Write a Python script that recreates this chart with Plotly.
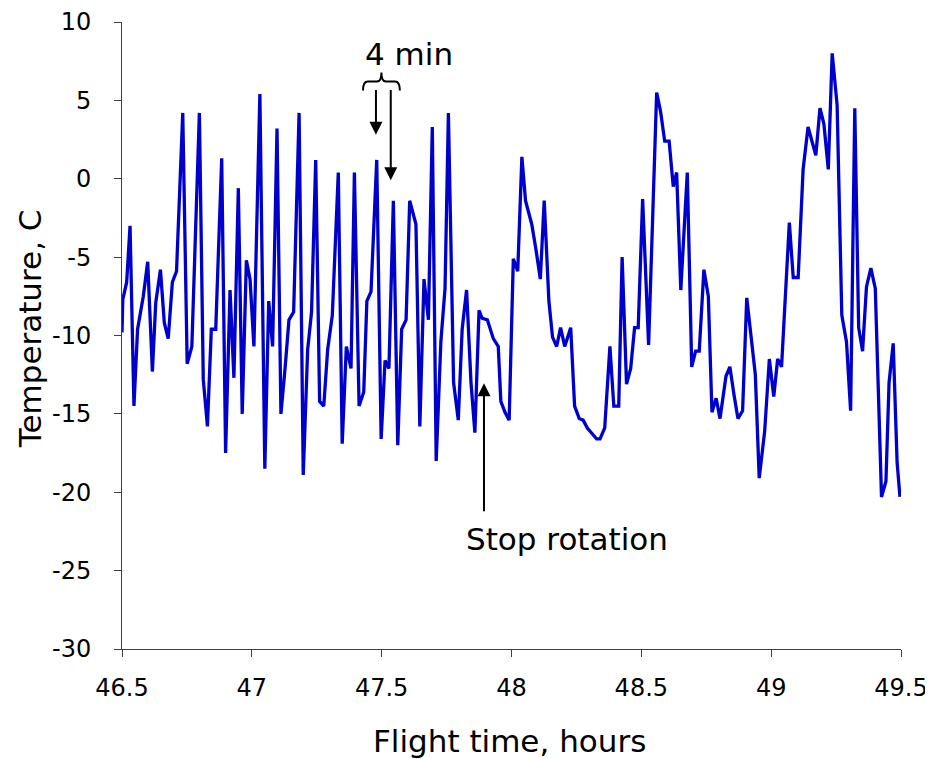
import plotly.graph_objects as go

time_h = [46.500, 46.503, 46.518, 46.531, 46.546, 46.560, 46.582, 46.599, 46.617, 46.630,
          46.648, 46.663, 46.678, 46.694, 46.710, 46.734, 46.751, 46.769, 46.798, 46.813,
          46.829, 46.844, 46.861, 46.884, 46.899, 46.916, 46.931, 46.948, 46.963, 46.979,
          46.993, 47.008, 47.031, 47.050, 47.065, 47.080, 47.097, 47.112, 47.128, 47.143,
          47.161, 47.182, 47.198, 47.215, 47.230, 47.246, 47.261, 47.277, 47.292, 47.310,
          47.333, 47.348, 47.364, 47.382, 47.395, 47.413, 47.431, 47.443, 47.459, 47.481,
          47.498, 47.513, 47.528, 47.545, 47.562, 47.577, 47.594, 47.608, 47.632, 47.647,
          47.663, 47.680, 47.695, 47.710, 47.728, 47.744, 47.757, 47.777, 47.795, 47.810,
          47.827, 47.844, 47.859, 47.875, 47.887, 47.907, 47.930, 47.949, 47.959, 47.975,
          47.991, 48.007, 48.024, 48.040, 48.054, 48.078, 48.094, 48.111, 48.126, 48.144,
          48.158, 48.174, 48.189, 48.205, 48.228, 48.243, 48.261, 48.276, 48.292, 48.313,
          48.328, 48.341, 48.359, 48.379, 48.394, 48.413, 48.426, 48.443, 48.459, 48.474,
          48.488, 48.505, 48.528, 48.559, 48.574, 48.590, 48.607, 48.623, 48.636, 48.652,
          48.677, 48.694, 48.709, 48.723, 48.741, 48.758, 48.772, 48.788, 48.803, 48.826,
          48.841, 48.857, 48.872, 48.890, 48.906, 48.939, 48.954, 48.975, 48.993, 49.010,
          49.025, 49.040, 49.070, 49.085, 49.104, 49.123, 49.142, 49.172, 49.188, 49.203,
          49.220, 49.235, 49.254, 49.272, 49.290, 49.306, 49.322, 49.337, 49.352, 49.367,
          49.384, 49.401, 49.425, 49.442, 49.454, 49.470, 49.485, 49.496]

temp_c = [-9.8, -7.7, -6.6, -3.0, -14.5, -9.6, -7.5, -5.3, -12.3, -7.9,
          -5.8, -9.2, -10.2, -6.6, -5.9, 4.2, -11.8, -10.7, 4.2, -12.8,
          -15.8, -9.6, -9.6, 1.3, -17.5, -7.1, -12.7, -0.6, -15.0, -5.2,
          -6.4, -10.7, 5.4, -18.5, -7.8, -10.7, 3.2, -15.0, -12.1, -9.0,
          -8.5, 4.2, -18.9, -10.9, -8.5, 1.2, -14.2, -14.5, -10.9, -8.7,
          0.4, -16.9, -10.7, -12.1, 0.4, -14.5, -13.6, -7.8, -7.2, 1.2,
          -16.6, -11.6, -12.1, -1.4, -17.0, -9.6, -9.0, -1.4, -2.9, -15.8,
          -6.4, -9.0, 3.3, -18.0, -10.4, -7.0, 4.2, -13.0, -15.4, -9.6,
          -7.1, -13.0, -16.2, -8.4, -8.9, -9.0, -10.2, -10.7, -14.2, -14.9,
          -15.4, -5.1, -5.9, 1.4, -1.4, -2.9, -4.5, -6.4, -1.4, -7.8,
          -10.1, -10.7, -9.5, -10.7, -9.5, -14.5, -15.3, -15.4, -15.9, -16.3,
          -16.6, -16.6, -15.9, -10.7, -14.5, -14.5, -5.0, -13.1, -12.1, -9.5,
          -9.5, -1.3, -10.6, 5.5, 4.3, 2.4, 2.4, -0.5, 0.4, -7.1,
          0.4, -12.0, -11.0, -11.0, -5.8, -7.5, -14.9, -14.0, -15.3, -12.6,
          -12.0, -13.8, -15.3, -14.8, -7.6, -12.5, -19.1, -16.1, -11.5, -13.9,
          -11.5, -12.0, -2.8, -6.3, -6.3, 0.6, 3.3, 1.5, 4.5, 3.5,
          0.6, 8.0, 4.7, -8.7, -10.4, -14.8, 4.5, -9.5, -11.0, -6.9,
          -5.7, -7.0, -20.3, -19.3, -13.0, -10.5, -18.1, -20.3]

x_ticks = [46.5, 47, 47.5, 48, 48.5, 49, 49.5]
x_tick_labels = ["46.5", "47", "47.5", "48", "48.5", "49", "49.5"]
y_ticks = [-30, -25, -20, -15, -10, -5, 0, 5, 10]
y_tick_labels = ["-30", "-25", "-20", "-15", "-10", "-5", "0", "5", "10"]

FONT = "DejaVu Sans"
AXIS_COLOR = "#404040"
TEXT_SIZE = 31

fig = go.Figure()
fig.add_trace(go.Scatter(
    x=time_h, y=temp_c, mode="lines",
    line=dict(color="#0000CC", width=3.3),
    showlegend=False, hoverinfo="skip",
))

# 4 min annotations: arrows
for x_tip, y_tip in [(47.478, 2.8), (47.535, -0.1)]:
    fig.add_annotation(
        x=x_tip, y=y_tip, ax=x_tip, ay=5.75, xref="x", yref="y", axref="x", ayref="y",
        text="", showarrow=True, arrowhead=2, arrowsize=1.3, arrowwidth=2,
        arrowcolor="black", standoff=0,
    )

# brace over the arrows
brace = ("M 47.428,5.631 Q 47.428,6.205 47.447,6.205 L 47.482,6.205 "
         "Q 47.499,6.205 47.499,6.779 Q 47.499,6.205 47.517,6.205 "
         "L 47.551,6.205 Q 47.570,6.205 47.570,5.631")
fig.add_shape(type="path", path=brace, xref="x", yref="y",
              line=dict(color="black", width=2))

fig.add_annotation(x=47.605, y=7.93, xref="x", yref="y", text="4 min",
                   showarrow=False, font=dict(family=FONT, size=TEXT_SIZE, color="black"))

# Stop rotation arrow
fig.add_annotation(
    x=47.894, y=-13.05, ax=47.894, ay=-21.3, xref="x", yref="y", axref="x", ayref="y",
    text="", showarrow=True, arrowhead=2, arrowsize=1.3, arrowwidth=2,
    arrowcolor="black", standoff=0,
)
fig.add_annotation(x=48.214, y=-23.0, xref="x", yref="y", text="Stop rotation",
                   showarrow=False, font=dict(family=FONT, size=TEXT_SIZE, color="black"))

# axis titles
fig.add_annotation(x=0.497, y=0, xref="paper", yref="paper", yshift=-92,
                   xanchor="center", yanchor="middle",
                   text="Flight time, hours", showarrow=False,
                   font=dict(family=FONT, size=TEXT_SIZE, color="black"))
fig.add_annotation(x=0, y=0.51, xref="paper", yref="paper", xshift=-92,
                   xanchor="center", yanchor="middle",
                   text="Temperature, C", showarrow=False, textangle=-90,
                   font=dict(family=FONT, size=TEXT_SIZE, color="black"))

# the page body adds an 8px offset, so the figure is sized to fit the window
fig.update_layout(
    width=925, height=751,
    margin=dict(l=114, r=32, t=14, b=110),
    paper_bgcolor="white", plot_bgcolor="white",
    font=dict(family=FONT, color="black"),
    xaxis=dict(
        range=[46.5, 49.5], tickmode="array", tickvals=x_ticks, ticktext=x_tick_labels,
        showgrid=False, zeroline=False, showline=True, linecolor=AXIS_COLOR, linewidth=1,
        ticks="outside", ticklen=7, tickcolor=AXIS_COLOR, automargin=False,
        ticklabelstandoff=10, ticklabeloverflow="allow",
        tickfont=dict(family=FONT, size=24, color="black"),
    ),
    yaxis=dict(
        range=[-30, 10], tickmode="array", tickvals=y_ticks, ticktext=y_tick_labels,
        showgrid=False, zeroline=False, showline=True, linecolor=AXIS_COLOR, linewidth=1,
        ticks="outside", ticklen=7, tickcolor=AXIS_COLOR, automargin=False,
        ticklabelstandoff=18, ticklabeloverflow="allow",
        tickfont=dict(family=FONT, size=24, color="black"),
    ),
)

fig.write_html("out.html")
